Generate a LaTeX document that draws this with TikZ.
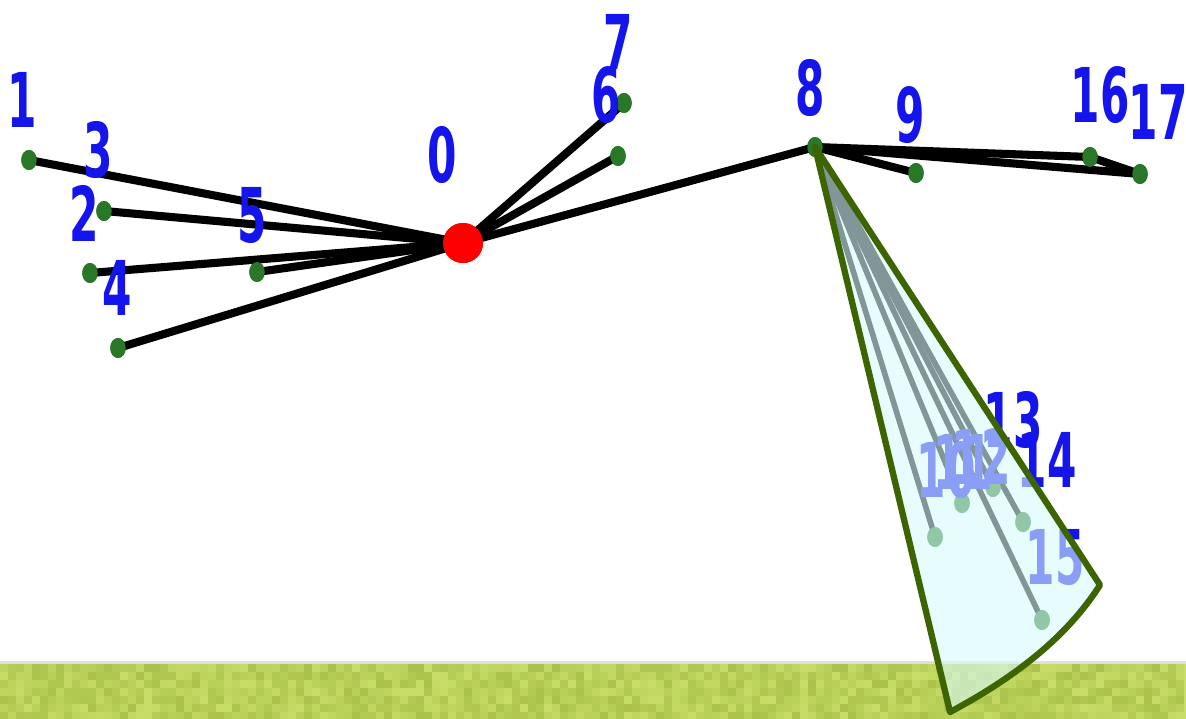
\documentclass[tikz,border=0pt]{standalone}
\usepackage{fontspec}
\newfontfamily\lblfont{DejaVu Sans}
\usetikzlibrary{shapes.geometric}
\definecolor{labelblue}{RGB}{20,20,235}
\definecolor{dotgreen}{RGB}{40,120,40}
\definecolor{fanfill}{RGB}{215,250,250}
\definecolor{fanedge}{RGB}{60,100,0}
\definecolor{grassA}{RGB}{200,222,104}
\definecolor{grassB}{RGB}{170,194,74}
\newcommand\ld[1]{\scalebox{0.56}[1]{#1}}
\begin{document}
\begin{tikzpicture}[x=0.02cm,y=-0.02cm,
  dot/.style={ellipse,fill=dotgreen,minimum width=0.31cm,minimum height=0.4cm,inner sep=0},
  root/.style={circle,fill=red,minimum size=0.8cm,inner sep=0},
  lbl/.style={text=labelblue,inner sep=0,font=\lblfont\bfseries\fontsize{43}{43}\selectfont},
  edge/.style={line width=4.6pt,black},
  fan/.style={draw=fanedge,line width=3.6pt,fill=fanfill,fill opacity=0.6,line join=round}]
\useasboundingbox (0,0) rectangle (1186,719);
\fill[white] (0,0) rectangle (1186,719);
% grass strip
\fill[grassA] (0,662) rectangle (1186,719);
\pgfmathsetseed{11}
\foreach \i in {0,...,147}{
  \foreach \j in {0,...,6}{
    \pgfmathtruncatemacro\p{100*rnd}
    \fill[grassA!\p!grassB] ({\i*8},{664+\j*8}) rectangle ({\i*8+8},{672+\j*8});
  }
}
\fill[black!12] (0,661) rectangle (1186,664);
% nodes
\node[root] (n0) at (463,243) {};
\node[dot] (n1) at (29,160) {};
\node[dot] (n3) at (104,211) {};
\node[dot] (n2) at (90,273) {};
\node[dot] (n5) at (257,272) {};
\node[dot] (n4) at (118,348) {};
\node[dot] (n7) at (624,103) {};
\node[dot] (n6) at (618,156) {};
\node[dot] (n8) at (815,147) {};
\node[dot] (n9) at (916,173) {};
\node[dot] (n16) at (1090,157) {};
\node[dot] (n17) at (1140,174) {};
\node[dot] (n10) at (935,537) {};
\node[dot] (n11) at (962,503) {};
\node[dot] (n13) at (993,487) {};
\node[dot] (n14) at (1023,522) {};
\node[dot] (n15) at (1042,620) {};
% edges
\foreach \t in {n1,n3,n2,n5,n4,n7,n6,n8}{\draw[edge] (n0.center) -- (\t.center);}
\foreach \t in {n9,n16,n17}{\draw[edge] (n8.center) -- (\t.center);}
\draw[edge] (n16.center) -- (n17.center);
\foreach \t in {n10,n11,n13,n14,n15}{\draw[line width=3.2pt,black] (n8.center) -- (\t.center);}
% redraw dots on top
\foreach \p in {{29,160},{104,211},{90,273},{257,272},{118,348},{624,103},{618,156},{815,147},{916,173},{1090,157},{1140,174},{935,537},{962,503},{993,487},{1023,522},{1042,620}}{\node[dot] at (\p) {};}
\node[root] at (463,243) {};
% labels
\node[lbl] (l0) at (442,155) {\ld{0}};
\node[lbl] (l1) at (22,100) {\ld{1}};
\node[lbl] (l3) at (98,150) {\ld{3}};
\node[lbl] (l2) at (84,213) {\ld{2}};
\node[lbl] (l5) at (252,215) {\ld{5}};
\node[lbl] (l4) at (117,288) {\ld{4}};
\node[lbl] (l7) at (618,42) {\ld{7}};
\node[lbl] (l6) at (606,95) {\ld{6}};
\node[lbl] (l8) at (810,88) {\ld{8}};
\node[lbl] (l9) at (910,115) {\ld{9}};
\node[lbl] (l16) at (1100,95) {\ld{16}};
\node[lbl] (l17) at (1158,112) {\ld{17}};
\node[lbl] (l10) at (946,470) {\ld{10}};
\node[lbl] (l11) at (963,462) {\ld{11}};
\node[lbl] (l12) at (981,456) {\ld{12}};
\node[lbl] (l13) at (1013,420) {\ld{13}};
\node[lbl] (l14) at (1047,460) {\ld{14}};
\node[lbl] (l15) at (1055,557) {\ld{15}};
% fan
\coordinate (fl) at (950,712);
\coordinate (fr) at (1100,585);
\draw[fan] (n8.center) -- (fl) .. controls (1010,680) and (1065,640) .. (fr) -- cycle;
\end{tikzpicture}
\end{document}
